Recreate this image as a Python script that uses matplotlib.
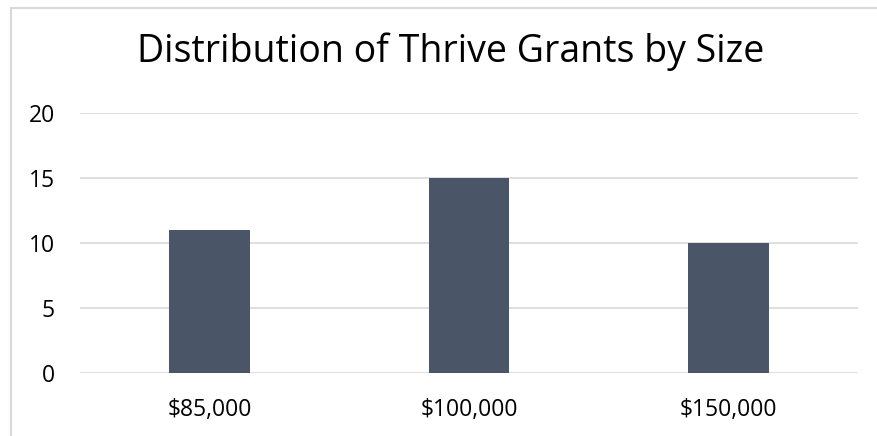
import matplotlib
matplotlib.use("Agg")
import matplotlib.pyplot as plt
from matplotlib.lines import Line2D

categories = ["$85,000", "$100,000", "$150,000"]
counts = [11, 15, 10]
y_ticks = [0, 5, 10, 15, 20]

plt.rcParams["font.family"] = ["Open Sans", "DejaVu Sans"]

W, H = 877, 436
fig = plt.figure(figsize=(W / 100, H / 100), dpi=100)
fig.patch.set_facecolor("white")

ax = fig.add_axes([80 / W, 1 - 373 / H, (858 - 80) / W, (373 - 113) / H])
x = list(range(len(categories)))
ax.bar(x, counts, width=0.31, color="#4a5668", zorder=3)

ax.set_xlim(-0.5, len(categories) - 0.5)
ax.set_ylim(0, 20)
ax.set_yticks(y_ticks)
ax.set_yticklabels([str(v) for v in y_ticks])
ax.set_xticks(x)
ax.set_xticklabels(categories)
ax.tick_params(axis="both", length=0, labelsize=16.5, colors="#000000")
ax.tick_params(axis="y", pad=18)
ax.tick_params(axis="x", pad=18)
ax.grid(axis="y", color="#d9d9d9", linewidth=1.2, zorder=0)
for s in ax.spines.values():
    s.set_visible(False)

fig.text(451 / W, 1 - 52 / H, "Distribution of Thrive Grants by Size",
         ha="center", va="center", fontsize=27, color="#000000")

# outer chart frame (left and top edges)
frame_kw = dict(color="#d9d9d9", linewidth=1.5, transform=fig.transFigure)
fig.add_artist(Line2D([10.5 / W, 10.5 / W], [0, 1 - 8 / H], **frame_kw))
fig.add_artist(Line2D([10.5 / W, 1], [1 - 8 / H, 1 - 8 / H], **frame_kw))

fig.savefig("out.png", dpi=100)
